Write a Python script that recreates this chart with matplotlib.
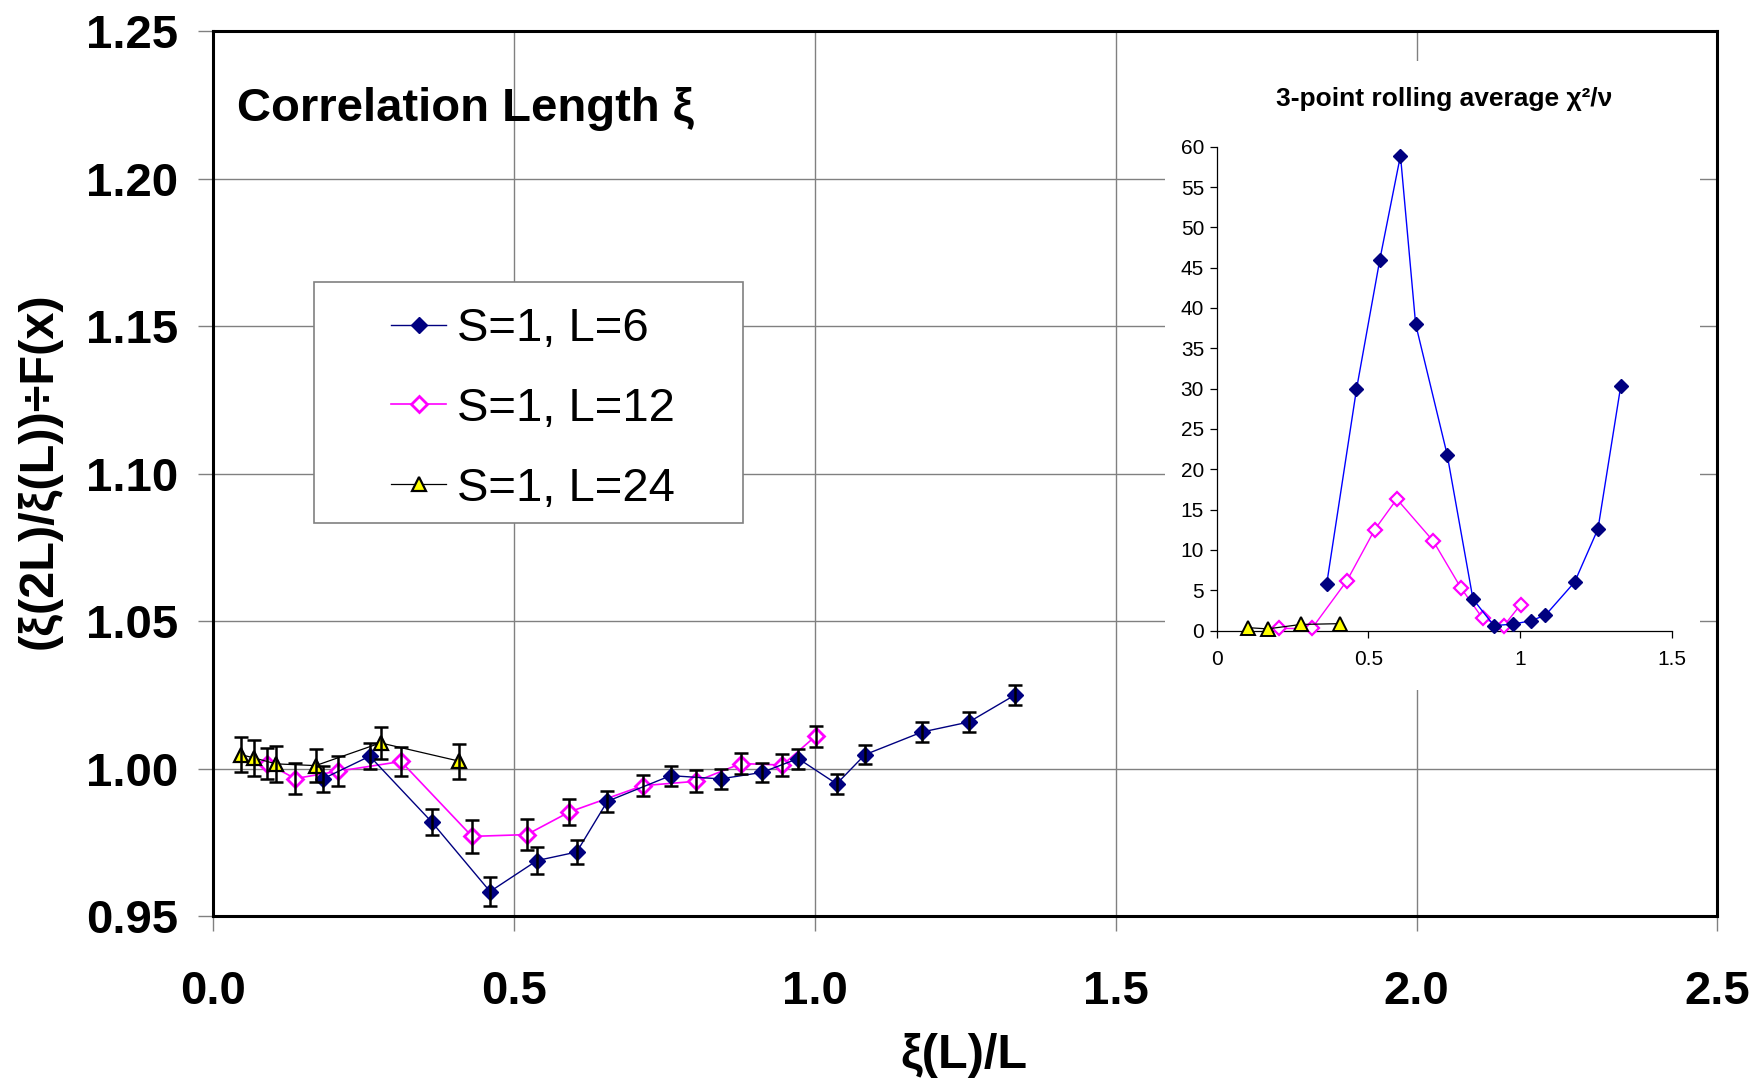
import matplotlib
matplotlib.use('Agg')
import matplotlib.pyplot as plt
from matplotlib.patches import Rectangle
from matplotlib.ticker import FormatStrFormatter, MultipleLocator

plt.rcParams['font.family'] = ['Liberation Sans', 'DejaVu Sans']

# ---- main panel data: xi(2L)/xi(L) / F(x) vs xi(L)/L ----
L6_x = [0.182, 0.260, 0.363, 0.460, 0.538, 0.604, 0.655, 0.760, 0.843, 0.912,
        0.972, 1.036, 1.083, 1.178, 1.256, 1.332]
L6_y = [0.9965, 1.0042, 0.9819, 0.9583, 0.9688, 0.9717, 0.9889, 0.9976, 0.9965,
        0.9987, 1.0034, 0.9948, 1.0047, 1.0124, 1.0158, 1.0249]
L6_err = [0.0045, 0.0045, 0.0045, 0.0049, 0.0045, 0.0040, 0.0035, 0.0034, 0.0034,
          0.0032, 0.0034, 0.0033, 0.0033, 0.0034, 0.0034, 0.0034]

L12_x = [0.090, 0.136, 0.207, 0.312, 0.430, 0.521, 0.592, 0.714, 0.803, 0.877,
         0.946, 1.001]
L12_y = [1.0017, 0.9966, 0.9991, 1.0024, 0.9770, 0.9776, 0.9853, 0.9942, 0.9957,
         1.0017, 1.0012, 1.0110]
L12_err = [0.0054, 0.0053, 0.0050, 0.0049, 0.0055, 0.0052, 0.0044, 0.0036, 0.0037,
           0.0037, 0.0036, 0.0036]

L24_x = [0.046, 0.068, 0.104, 0.170, 0.278, 0.409]
L24_y = [1.0047, 1.0036, 1.0016, 1.0010, 1.0087, 1.0025]
L24_err = [0.0060, 0.0060, 0.0060, 0.0057, 0.0054, 0.0060]

labels = ['S=1, L=6', 'S=1, L=12', 'S=1, L=24']

# ---- inset data: 3-point rolling average chi^2/nu ----
chi_L6_x = [0.363, 0.461, 0.538, 0.606, 0.656, 0.760, 0.845, 0.914, 0.978, 1.035,
            1.084, 1.180, 1.257, 1.332]
chi_L6 = [5.8, 29.9, 46.0, 58.9, 38.0, 21.8, 3.9, 0.6, 0.8, 1.2, 1.9, 6.0, 12.6, 30.3]
chi_L12_x = [0.206, 0.314, 0.430, 0.521, 0.594, 0.714, 0.805, 0.877, 0.946, 1.002]
chi_L12 = [0.25, 0.25, 6.2, 12.5, 16.3, 11.1, 5.3, 1.5, 0.55, 3.2]
chi_L24_x = [0.105, 0.168, 0.278, 0.408]
chi_L24 = [0.35, 0.2, 0.75, 0.85]

inset_xticks = [0, 0.5, 1, 1.5]
inset_xticklabels = ['0', '0.5', '1', '1.5']

NAVY = '#000080'
MAG = '#FF00FF'
YEL = '#FFFF00'
GRID = '#808080'

W, H = 1758, 1085
fig = plt.figure(figsize=(W / 100, H / 100), dpi=100)
fig.patch.set_facecolor('white')

# main axes (pixel geometry)
ax = fig.add_axes([213.3 / W, 1 - 916 / H, 1504.2 / W, 884.6 / H])
ax.set_xlim(0, 2.5)
ax.set_ylim(0.95, 1.25)
ax.set_axisbelow(True)
ax.xaxis.set_major_locator(MultipleLocator(0.5))
ax.yaxis.set_major_locator(MultipleLocator(0.05))
ax.xaxis.set_major_formatter(FormatStrFormatter('%.1f'))
ax.yaxis.set_major_formatter(FormatStrFormatter('%.2f'))
ax.grid(True, color=GRID, linewidth=1.0)
for s in ax.spines.values():
    s.set_linewidth(2.2)
    s.set_color('black')
ax.tick_params(axis='both', direction='out', length=11, width=1.0, color=GRID,
               labelsize=34)
ax.tick_params(axis='y', pad=14)
ax.tick_params(axis='x', pad=28)
for lab in ax.get_xticklabels() + ax.get_yticklabels():
    lab.set_fontweight('bold')

# series (magenta under yellow under navy, error bars on top)
h12, = ax.plot(L12_x, L12_y, color=MAG, lw=1.2, marker='D', ms=8,
               mfc='white', mec=MAG, mew=2.0, zorder=3)
h24, = ax.plot(L24_x, L24_y, color='black', lw=0.9, marker='^', ms=10,
               mfc=YEL, mec='black', mew=1.6, zorder=4)
h6, = ax.plot(L6_x, L6_y, color=NAVY, lw=1.0, marker='D', ms=8,
              mfc=NAVY, mec=NAVY, mew=1.0, zorder=5)
for xs, ys, es in [(L12_x, L12_y, L12_err), (L24_x, L24_y, L24_err),
                   (L6_x, L6_y, L6_err)]:
    ax.errorbar(xs, ys, yerr=es, fmt='none', ecolor='black', elinewidth=1.8,
                capsize=4.7, capthick=1.8, zorder=6)

# white patch behind the inset, hiding grid lines
ax.add_patch(Rectangle((1165 / W, 1 - 690 / H), 535 / W, 629 / H,
                       transform=fig.transFigure, facecolor='white',
                       edgecolor='none', zorder=1, clip_on=False))

# legend with its own frame
ax.add_patch(Rectangle((314 / W, 1 - 523 / H), 429 / W, 241 / H,
                       transform=fig.transFigure, facecolor='white',
                       edgecolor=GRID, linewidth=1.2, zorder=7, clip_on=False))
leg = ax.legend([h6, h12, h24], labels, loc='center left',
                bbox_to_anchor=(391 / W, 1 - 409 / H),
                bbox_transform=fig.transFigure, frameon=False, borderpad=0,
                borderaxespad=0, handlelength=1.17, handletextpad=0.23,
                labelspacing=0.76, fontsize=34, numpoints=1)
leg.set_zorder(8)

# texts
fig.text(237 / W, 1 - 109 / H, 'Correlation Length ξ', fontsize=34,
         fontweight='bold', ha='left', va='center')
fig.text(964 / W, 1 - 1056 / H, 'ξ(L)/L', fontsize=35, fontweight='bold',
         ha='center', va='center')
fig.text(39 / W, 1 - 471 / H, '(ξ(2L)/ξ(L))÷F(x)', fontsize=35,
         fontweight='bold', ha='center', va='center', rotation=90)

# inset
axi = fig.add_axes([1216.6 / W, 1 - 630.5 / H, 455.1 / W, 483.8 / H])
axi.patch.set_alpha(0)
axi.set_xlim(0, 1.5)
axi.set_ylim(0, 60)
axi.set_xticks(inset_xticks)
axi.set_xticklabels(inset_xticklabels)
axi.yaxis.set_major_locator(MultipleLocator(5))
axi.yaxis.set_major_formatter(FormatStrFormatter('%d'))
for side in ['top', 'right']:
    axi.spines[side].set_visible(False)
for side in ['left', 'bottom']:
    axi.spines[side].set_linewidth(0.9)
    axi.spines[side].set_color('black')
axi.tick_params(direction='out', length=5, width=0.9, labelsize=15)
axi.tick_params(axis='y', pad=4)
axi.tick_params(axis='x', pad=9)

axi.plot(chi_L12_x, chi_L12, color=MAG, lw=1.0, marker='D', ms=7,
         mfc='white', mec=MAG, mew=1.6, zorder=3, clip_on=False)
axi.plot(chi_L24_x, chi_L24, color='black', lw=0.9, marker='^', ms=9.5,
         mfc=YEL, mec='black', mew=1.4, zorder=4, clip_on=False)
axi.plot(chi_L6_x, chi_L6, color='#0000FF', lw=1.0, marker='D', ms=7.5,
         mfc=NAVY, mec=NAVY, zorder=5, clip_on=False)

fig.text(1444 / W, 1 - 99 / H, '3-point rolling average χ²/ν', fontsize=19,
         fontweight='bold', ha='center', va='center')

fig.savefig('out.png', dpi=100, facecolor='white')
